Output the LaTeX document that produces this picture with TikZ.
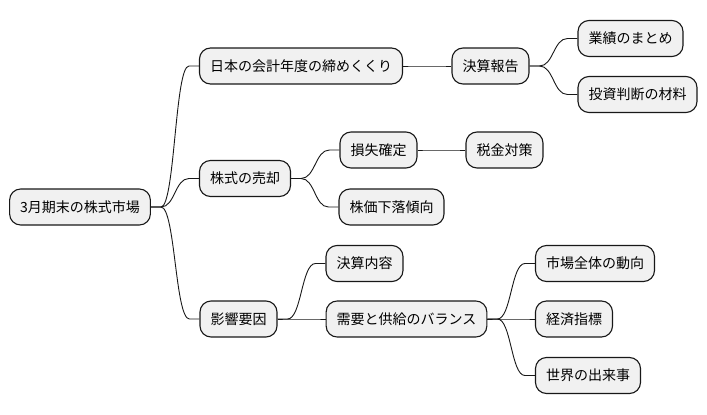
\documentclass[tikz,border=0pt]{standalone}
\usepackage{fontspec}
\setmainfont{Noto Sans CJK JP}
\usetikzlibrary{calc}
\definecolor{boxfill}{HTML}{F1F1F1}
\definecolor{lineclr}{HTML}{181818}
\tikzset{
  mmbox/.style={draw=lineclr, line width=1.1pt, fill=boxfill, rounded corners=11pt,
    minimum height=36pt, inner xsep=10.5pt, inner ysep=0pt,
    font=\fontsize{14pt}{16pt}\selectfont, text=black},
  conn/.style={draw=lineclr, line width=0.9pt}
}
\newcommand\mmlink[2]{\draw[conn] let \p1=(#1.east), \p2=(#2.west) in
  (\p1) -- ({\x1+10pt},\y1) .. controls ({(\x1+\x2)/2},\y1) and ({(\x1+\x2)/2},\y2) .. ({\x2-10pt},\y2) -- (\p2);}
\begin{document}
\begin{tikzpicture}[x=1pt,y=-1pt]
\useasboundingbox (0,0) rectangle (707,415);
\node[mmbox] (root) at (80,207) {3月期末の株式市場};
\node[mmbox] (n1) at (301,66) {日本の会計年度の締めくくり};
\node[mmbox] (n11) at (490.5,66) {決算報告};
\node[mmbox] (n111) at (630.5,38.5) {業績のまとめ};
\node[mmbox] (n112) at (637.5,94.5) {投資判断の材料};
\node[mmbox] (n2) at (245,178.5) {株式の売却};
\node[mmbox] (n21) at (378.5,150) {損失確定};
\node[mmbox] (n211) at (504.5,150) {税金対策};
\node[mmbox] (n22) at (391.5,207) {株価下落傾向};
\node[mmbox] (n3) at (238.5,319) {影響要因};
\node[mmbox] (n31) at (364.5,263.5) {決算内容};
\node[mmbox] (n32) at (406.5,319) {需要と供給のバランス};
\node[mmbox] (n321) at (595,263.5) {市場全体の動向};
\node[mmbox] (n322) at (574,319) {経済指標};
\node[mmbox] (n323) at (588,375.5) {世界の出来事};
\mmlink{root}{n1}
\mmlink{root}{n2}
\mmlink{root}{n3}
\mmlink{n1}{n11}
\mmlink{n11}{n111}
\mmlink{n11}{n112}
\mmlink{n2}{n21}
\mmlink{n2}{n22}
\mmlink{n21}{n211}
\mmlink{n3}{n31}
\mmlink{n3}{n32}
\mmlink{n32}{n321}
\mmlink{n32}{n322}
\mmlink{n32}{n323}
\end{tikzpicture}
\end{document}
